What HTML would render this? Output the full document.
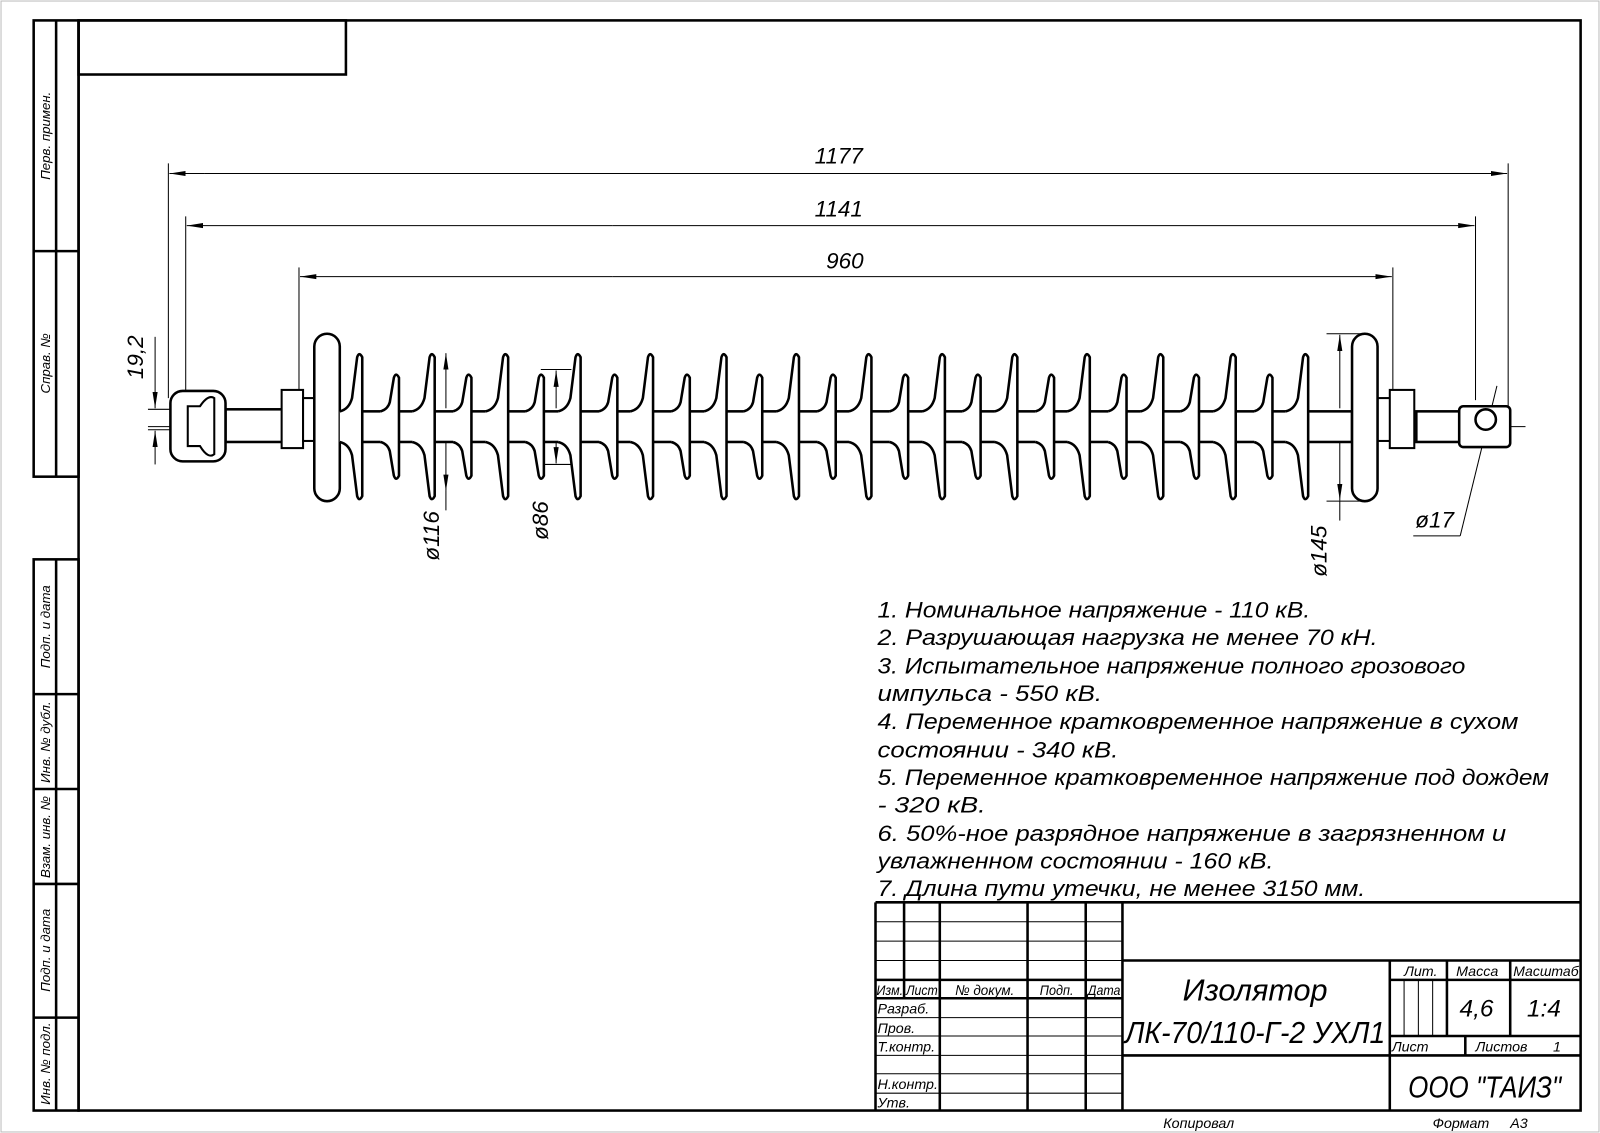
<!DOCTYPE html>
<html><head><meta charset="utf-8"><style>
html,body{margin:0;padding:0;background:#fff}
svg{display:block}
text{font-family:"Liberation Sans",sans-serif;font-style:italic;fill:#000}
</style></head><body>
<svg width="1600" height="1133" viewBox="0 0 1568 1110" preserveAspectRatio="none" xmlns="http://www.w3.org/2000/svg">
<defs>
<path id="L" d="M-22,403 Q-13,401 -10,390 L-5,350 Q-3,344 0,350 L0,486 Q-3,492 -5,486 L-10,446 Q-13,435 -22,433" fill="#fff" stroke="#000" stroke-width="2.5"/>
<path id="S" d="M-18,403 Q-11,401 -9,394 L-5,370 Q-3,364 0,370 L0,466 Q-3,472 -5,466 L-9,442 Q-11,435 -18,433" fill="#fff" stroke="#000" stroke-width="2.5"/>
<marker id="a" markerWidth="16" markerHeight="8" refX="16" refY="4" orient="auto" markerUnits="userSpaceOnUse"><path d="M0,1.5 L16,4 L0,6.5z" fill="#000"/></marker>
</defs>
<rect x="1" y="1" width="1566" height="1108" fill="none" stroke="#bbb" stroke-width="1"/>
<g fill="none" stroke="#000" stroke-width="2.5">
<rect x="77" y="20" width="1472" height="1068"/>
<rect x="77" y="20" width="262" height="53"/>
<rect x="33" y="20" width="44" height="447"/>
<line x1="55" y1="20" x2="55" y2="467"/><line x1="33" y1="246" x2="77" y2="246"/>
<rect x="33" y="548" width="44" height="540"/>
<line x1="55" y1="548" x2="55" y2="1088"/>
<line x1="33" y1="680" x2="77" y2="680"/><line x1="33" y1="773" x2="77" y2="773"/>
<line x1="33" y1="866" x2="77" y2="866"/><line x1="33" y1="997" x2="77" y2="997"/>
</g>
<g font-size="13">
<text transform="translate(49,133) rotate(-90)" text-anchor="middle">Перв. примен.</text>
<text transform="translate(49,356) rotate(-90)" text-anchor="middle">Справ. №</text>
<text transform="translate(49,614) rotate(-90)" text-anchor="middle">Подп. и дата</text>
<text transform="translate(49,727) rotate(-90)" text-anchor="middle">Инв. № дубл.</text>
<text transform="translate(49,820) rotate(-90)" text-anchor="middle">Взам. инв. №</text>
<text transform="translate(49,931) rotate(-90)" text-anchor="middle">Подп. и дата</text>
<text transform="translate(49,1042) rotate(-90)" text-anchor="middle">Инв. № подл.</text>
</g>
<g stroke="#000" stroke-width="1" fill="none">
<line x1="165" y1="160" x2="165" y2="390"/><line x1="1478" y1="160" x2="1478" y2="400"/>
<line x1="182" y1="212" x2="182" y2="390"/><line x1="1446" y1="212" x2="1446" y2="392"/>
<line x1="293" y1="262" x2="293" y2="385"/><line x1="1365" y1="262" x2="1365" y2="385"/>
<line x1="200" y1="170" x2="166" y2="170" marker-end="url(#a)"/><line x1="200" y1="170" x2="1477" y2="170" marker-end="url(#a)"/>
<line x1="600" y1="221" x2="183" y2="221" marker-end="url(#a)"/><line x1="600" y1="221" x2="1445" y2="221" marker-end="url(#a)"/>
<line x1="600" y1="271" x2="294" y2="271" marker-end="url(#a)"/><line x1="600" y1="271" x2="1364" y2="271" marker-end="url(#a)"/>
<line x1="145" y1="401" x2="195" y2="401"/><line x1="145" y1="421" x2="195" y2="421"/>
<line x1="152" y1="330" x2="152" y2="400" marker-end="url(#a)"/><line x1="152" y1="455" x2="152" y2="422" marker-end="url(#a)"/>
<line x1="437" y1="400" x2="437" y2="346" marker-end="url(#a)"/><line x1="437" y1="420" x2="437" y2="481" marker-end="url(#a)"/>
<line x1="437" y1="481" x2="437" y2="500"/>
<line x1="530" y1="362" x2="560" y2="362"/><line x1="530" y1="455" x2="560" y2="455"/>
<line x1="545" y1="400" x2="545" y2="363" marker-end="url(#a)"/><line x1="545" y1="420" x2="545" y2="454" marker-end="url(#a)"/>
<line x1="1300" y1="327" x2="1335" y2="327"/><line x1="1300" y1="491" x2="1335" y2="491"/>
<line x1="1313" y1="400" x2="1313" y2="328" marker-end="url(#a)"/><line x1="1313" y1="420" x2="1313" y2="490" marker-end="url(#a)"/>
<line x1="1313" y1="490" x2="1313" y2="510"/>
<line x1="1467" y1="378" x2="1431" y2="525"/><line x1="1431" y1="525" x2="1385" y2="525"/>
<line x1="145" y1="418" x2="1495" y2="418" stroke-dasharray="30,6,4,6"/>
</g>
<g font-size="22">
<text x="822" y="160" text-anchor="middle">1177</text>
<text x="822" y="212" text-anchor="middle">1141</text>
<text x="828" y="263" text-anchor="middle">960</text>
<text transform="translate(140,350) rotate(-90)" text-anchor="middle">19,2</text>
<text transform="translate(430,525) rotate(-90)" text-anchor="middle">ø116</text>
<text transform="translate(537,510) rotate(-90)" text-anchor="middle">ø86</text>
<text transform="translate(1300,540) rotate(-90)" text-anchor="middle">ø145</text>
<text x="1387" y="517">ø17</text>
</g>
<g stroke="#000" stroke-width="2.5" fill="#fff">
<rect x="221" y="401" width="62" height="32"/>
<rect x="167" y="383" width="54" height="69" rx="12"/>
<path d="M184,398 L196,398 Q204,386 210,390 L210,445 Q204,450 196,437 L184,437z" stroke-width="2"/>
<rect x="276" y="382" width="21" height="57" stroke-width="2"/>
<rect x="297" y="390" width="14" height="42" stroke-width="2"/>
<rect x="333" y="403" width="992" height="30"/>
<rect x="1388" y="403" width="44" height="30"/>
<rect x="1350" y="390" width="14" height="42" stroke-width="2"/>
<rect x="1362" y="382" width="24" height="57" stroke-width="2"/>
<rect x="1430" y="398" width="50" height="40" rx="4"/>
<circle cx="1456" cy="411" r="10"/>
<rect x="308" y="327" width="25" height="164" rx="12.5"/>
<rect x="1325" y="327" width="25" height="164" rx="12.5"/>
</g>
<g>
<use href="#L" x="355"/><use href="#L" x="426"/><use href="#L" x="498"/><use href="#L" x="569"/><use href="#L" x="640"/><use href="#L" x="712"/><use href="#L" x="783"/><use href="#L" x="854"/><use href="#L" x="926"/><use href="#L" x="997"/><use href="#L" x="1068"/><use href="#L" x="1140"/><use href="#L" x="1211"/><use href="#L" x="1282"/>
<use href="#S" x="391"/><use href="#S" x="462"/><use href="#S" x="533"/><use href="#S" x="605"/><use href="#S" x="676"/><use href="#S" x="747"/><use href="#S" x="819"/><use href="#S" x="890"/><use href="#S" x="961"/><use href="#S" x="1033"/><use href="#S" x="1104"/><use href="#S" x="1175"/><use href="#S" x="1247"/>
</g>
<g font-size="22">
<text x="860" y="605" textLength="424" lengthAdjust="spacingAndGlyphs">1. Номинальное напряжение - 110 кВ.</text>
<text x="860" y="632" textLength="490" lengthAdjust="spacingAndGlyphs">2. Разрушающая нагрузка не менее 70 кН.</text>
<text x="860" y="660" textLength="576" lengthAdjust="spacingAndGlyphs">3. Испытательное напряжение полного грозового</text>
<text x="860" y="687" textLength="220" lengthAdjust="spacingAndGlyphs">импульса - 550 кВ.</text>
<text x="860" y="714" textLength="628" lengthAdjust="spacingAndGlyphs">4. Переменное кратковременное напряжение  в сухом</text>
<text x="860" y="742" textLength="236" lengthAdjust="spacingAndGlyphs">состоянии - 340 кВ.</text>
<text x="860" y="769" textLength="658" lengthAdjust="spacingAndGlyphs">5. Переменное кратковременное напряжение под дождем</text>
<text x="860" y="796" textLength="106" lengthAdjust="spacingAndGlyphs">- 320 кВ.</text>
<text x="860" y="824" textLength="616" lengthAdjust="spacingAndGlyphs">6. 50%-ное разрядное напряжение в загрязненном и</text>
<text x="860" y="851" textLength="388" lengthAdjust="spacingAndGlyphs">увлажненном состоянии - 160 кВ.</text>
<text x="860" y="878" textLength="478" lengthAdjust="spacingAndGlyphs">7. Длина пути утечки, не менее 3150 мм.</text>
</g>
<g stroke="#000" stroke-width="1">
<line x1="858" y1="903" x2="1100" y2="903"/><line x1="858" y1="922" x2="1100" y2="922"/><line x1="858" y1="941" x2="1100" y2="941"/>
<line x1="858" y1="997" x2="1100" y2="997"/><line x1="858" y1="1015" x2="1100" y2="1015"/><line x1="858" y1="1034" x2="1100" y2="1034"/>
<line x1="858" y1="1052" x2="1100" y2="1052"/><line x1="858" y1="1071" x2="1100" y2="1071"/>
<line x1="1376" y1="960" x2="1376" y2="1015"/><line x1="1390" y1="960" x2="1390" y2="1015"/><line x1="1404" y1="960" x2="1404" y2="1015"/>
</g>
<g stroke="#000" stroke-width="2.5" fill="none">
<line x1="858" y1="884" x2="1549" y2="884"/><line x1="858" y1="884" x2="858" y2="1088"/>
<line x1="886" y1="884" x2="886" y2="978"/><line x1="921" y1="884" x2="921" y2="1088"/>
<line x1="1007" y1="884" x2="1007" y2="1088"/><line x1="1064" y1="884" x2="1064" y2="1088"/>
<line x1="1100" y1="884" x2="1100" y2="1088"/>
<line x1="858" y1="960" x2="1100" y2="960"/><line x1="858" y1="978" x2="1100" y2="978"/>
<line x1="1100" y1="941" x2="1549" y2="941"/><line x1="1100" y1="1034" x2="1549" y2="1034"/>
<line x1="1362" y1="941" x2="1362" y2="1088"/>
<line x1="1362" y1="960" x2="1549" y2="960"/><line x1="1362" y1="1015" x2="1549" y2="1015"/>
<line x1="1418" y1="941" x2="1418" y2="1015"/><line x1="1480" y1="941" x2="1480" y2="1015"/>
<line x1="1436" y1="1015" x2="1436" y2="1034"/>
</g>
<g font-size="14">
<text x="859" y="975" textLength="26" lengthAdjust="spacingAndGlyphs">Изм.</text>
<text x="888" y="975" textLength="31" lengthAdjust="spacingAndGlyphs">Лист</text>
<text x="936" y="975" textLength="58" lengthAdjust="spacingAndGlyphs">№ докум.</text>
<text x="1019" y="975" textLength="33" lengthAdjust="spacingAndGlyphs">Подп.</text>
<text x="1066" y="975" textLength="32" lengthAdjust="spacingAndGlyphs">Дата</text>
<text x="860" y="993">Разраб.</text>
<text x="860" y="1012">Пров.</text>
<text x="860" y="1030">Т.контр.</text>
<text x="860" y="1067">Н.контр.</text>
<text x="860" y="1085">Утв.</text>
<text x="1376" y="956">Лит.</text>
<text x="1427" y="956">Масса</text>
<text x="1483" y="956" textLength="64" lengthAdjust="spacingAndGlyphs">Масштаб</text>
<text x="1364" y="1030">Лист</text>
<text x="1446" y="1030">Листов</text>
<text x="1522" y="1030">1</text>
<text x="1140" y="1105">Копировал</text>
<text x="1404" y="1105">Формат</text>
<text x="1480" y="1105">А3</text>
</g>
<g font-size="24">
<text x="1447" y="996" text-anchor="middle">4,6</text>
<text x="1513" y="996" text-anchor="middle">1:4</text>
</g>
<g font-size="30">
<text x="1230" y="980" text-anchor="middle">Изолятор</text>
<text x="1230" y="1022" text-anchor="middle" textLength="255" lengthAdjust="spacingAndGlyphs">ЛК-70/110-Г-2 УХЛ1</text>
<text x="1455" y="1075" text-anchor="middle" textLength="150" lengthAdjust="spacingAndGlyphs">ООО "ТАИЗ"</text>
</g>
</svg>
</body></html>
